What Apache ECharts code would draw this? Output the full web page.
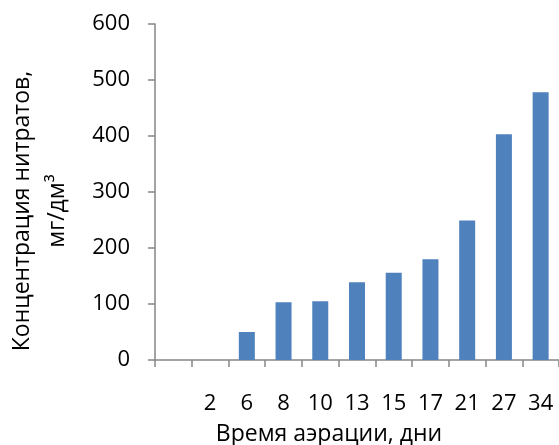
<!DOCTYPE html>
<html>
<head>
<meta charset="utf-8">
<script src="https://cdn.jsdelivr.net/npm/echarts@6/dist/echarts.min.js"></script>
<style>
html,body{margin:0;padding:0;background:#fff;}
#chart{width:559px;height:445px;}
</style>
</head>
<body>
<div id="chart"></div>
<script>
const categories = ['', '2', '6', '8', '10', '13', '15', '17', '21', '27', '34'];
const nitrateValues = [null, 0, 50, 103, 105, 139, 156, 180, 249, 403, 478];
const yTicks = { min: 0, max: 600, interval: 100 };
const xTitle = 'Время аэрации, дни';
const yTitle = 'Концентрация нитратов,\nмг/дм³';

const FONT = 'Open Sans';
const chart = echarts.init(document.getElementById('chart'), null, { renderer: 'canvas' });
chart.setOption({
  animation: false,
  grid: { left: 155, top: 24, width: 411.4, height: 336, containLabel: false },
  xAxis: {
    type: 'category',
    data: categories,
    boundaryGap: true,
    axisLine: { show: true, lineStyle: { color: '#868686', width: 1.5 } },
    axisTick: { show: true, length: 7, alignWithLabel: false, lineStyle: { color: '#868686', width: 1.5 } },
    axisLabel: { color: '#000', fontFamily: FONT, fontSize: 22, margin: 33, interval: 0 },
    splitLine: { show: false }
  },
  yAxis: {
    type: 'value',
    min: yTicks.min, max: yTicks.max, interval: yTicks.interval,
    axisLine: { show: true, lineStyle: { color: '#868686', width: 1.5 } },
    axisTick: { show: true, length: 7, lineStyle: { color: '#868686', width: 1.5 } },
    axisLabel: { color: '#000', fontFamily: FONT, fontSize: 22, margin: 25 },
    splitLine: { show: false }
  },
  graphic: [
    {
      type: 'text', x: 329, y: 434,
      style: { text: xTitle, fill: '#000', font: '23px "Open Sans"', textAlign: 'center', textVerticalAlign: 'middle' }
    },
    {
      type: 'text', x: 40, y: 211, rotation: Math.PI / 2,
      style: { text: yTitle, fill: '#000', font: '23px "Open Sans"', lineHeight: 35, textAlign: 'center', textVerticalAlign: 'middle' }
    }
  ],
  series: [{
    type: 'bar',
    data: nitrateValues,
    barWidth: 16,
    itemStyle: { color: '#4F81BD' }
  }]
});
</script>
</body>
</html>
